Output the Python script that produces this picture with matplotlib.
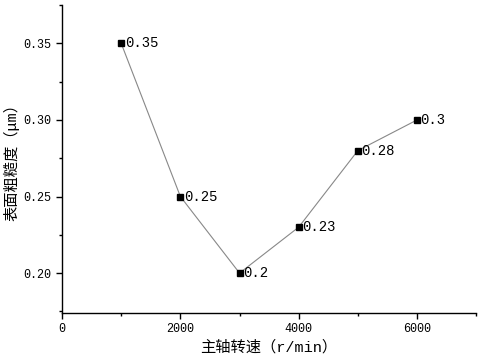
import matplotlib
matplotlib.use("Agg")
import matplotlib.pyplot as plt
from matplotlib.ticker import MultipleLocator, FormatStrFormatter

plt.rcParams['font.family'] = ['Liberation Mono', 'Noto Sans CJK SC', 'DejaVu Sans']

speeds = [1000, 2000, 3000, 4000, 5000, 6000]
roughness = [0.35, 0.25, 0.20, 0.23, 0.28, 0.30]
labels = ['0.35', '0.25', '0.2', '0.23', '0.28', '0.3']
xlabel = '主轴转速（r/min）'
ylabel = '表面粗糙度（μm）'

fig = plt.figure(figsize=(4.81, 3.63), dpi=100)
ax = fig.add_axes([0.129, 0.138, 0.861, 0.848])
ax.plot(speeds, roughness, color='#888888', lw=0.8, marker='s', ms=5,
        mfc='black', mec='black', zorder=3)
for x, y, t in zip(speeds, roughness, labels):
    ax.annotate(t, (x, y), xytext=(2.5, 0), textcoords='offset points',
                ha='left', va='center', fontsize=10, color='black')

ax.set_xlim(0, 7000)
ax.set_ylim(0.174, 0.375)
ax.xaxis.set_major_locator(MultipleLocator(2000))
ax.xaxis.set_minor_locator(MultipleLocator(1000))
ax.yaxis.set_major_locator(MultipleLocator(0.05))
ax.yaxis.set_minor_locator(MultipleLocator(0.025))
ax.yaxis.set_major_formatter(FormatStrFormatter('%.2f'))
ax.spines['top'].set_visible(False)
ax.spines['right'].set_visible(False)
for s in ('left', 'bottom'):
    ax.spines[s].set_linewidth(1.0)
ax.tick_params(axis='both', which='major', direction='out', length=4, width=1, labelsize=8.5)
ax.tick_params(axis='both', which='minor', direction='out', length=2.5, width=1)
ax.set_xlabel(xlabel, fontsize=11, labelpad=3)
ax.set_ylabel(ylabel, fontsize=11, labelpad=3)

fig.savefig('out.png', dpi=100)
